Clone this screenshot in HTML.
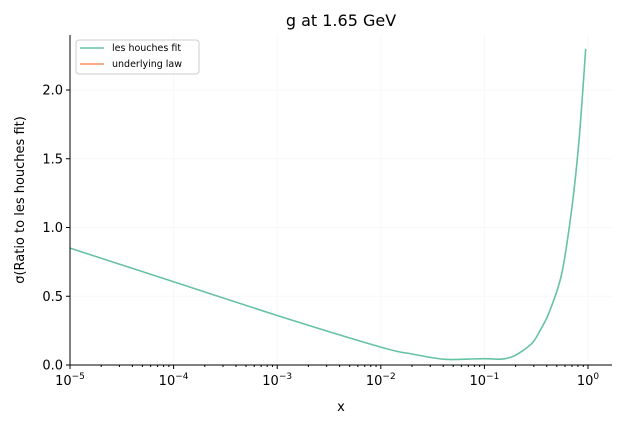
<!DOCTYPE html>
<html><head><meta charset="utf-8"><style>
body{margin:0;background:#fff;}
svg{display:block;font-family:"DejaVu Sans","Liberation Sans",sans-serif;}
</style></head><body>
<svg id="chart" width="622" height="424">
<rect width="622" height="424" fill="#fff"/>
<g id="grid"></g>
<g id="plot"></g>
<g id="axes"></g>
<text x="341" y="26" text-anchor="middle" font-size="16" fill="#000">g at 1.65 GeV</text>
<text x="341" y="411" text-anchor="middle" font-size="13" fill="#000">x</text>
<text transform="translate(24,200) rotate(-90)" text-anchor="middle" font-size="13" fill="#000">σ(Ratio to les houches fit)</text>
<g>
<rect x="76" y="40" width="123" height="34" rx="3" fill="#fff" fill-opacity="0.8" stroke="#ccc"/>
<line x1="80" y1="48" x2="104" y2="48" stroke="#66c2a5" stroke-width="1.5"/>
<text x="112" y="51" font-size="9.5" fill="#000">les houches fit</text>
<line x1="80" y1="64" x2="104" y2="64" stroke="#fc8d62" stroke-width="1.5"/>
<text x="112" y="67" font-size="9.5" fill="#000">underlying law</text>
</g>
</svg>
<script>
const xs=[1e-5,1e-4,1e-3,1e-2,0.02,0.04,0.07,0.1,0.148,0.185,0.22,0.29,0.35,0.42,0.56,0.70,0.82,0.95];
const ys=[0.85,0.605,0.36,0.13,0.08,0.042,0.043,0.046,0.043,0.06,0.09,0.16,0.26,0.38,0.67,1.15,1.64,2.30];
const yTicks=[0,0.5,1.0,1.5,2.0];
const yTickLabels=["0.0","0.5","1.0","1.5","2.0"];
const xTicks=[-5,-4,-3,-2,-1,0];
const L=70,R=612,T=35,B=365;
const X=v=>L+(Math.log10(v)+5)*103.6;
const Y=v=>B-v*137.5;
const NS="http://www.w3.org/2000/svg";
function mk(tag,attrs,parent){const e=document.createElementNS(NS,tag);for(const k in attrs)e.setAttribute(k,attrs[k]);parent.appendChild(e);return e;}
const grid=document.getElementById('grid'),axes=document.getElementById('axes'),plot=document.getElementById('plot');
yTicks.forEach((t,i)=>{
 const g=mk('line',{x1:L,x2:R,y1:Y(t),y2:Y(t),stroke:'#f7f7f7','stroke-width':1},grid);
 
 
 mk('line',{x1:L-4,x2:L,y1:Y(t),y2:Y(t),stroke:'#000'},axes);
 const tx=mk('text',{x:L-7,y:Y(t)+4.5,'text-anchor':'end','font-size':13},axes);
 tx.textContent=yTickLabels[i];
 
 
});
xTicks.forEach(d=>{
 const x=X(Math.pow(10,d));
 const g=mk('line',{x1:x,x2:x,y1:T,y2:B,stroke:'#f7f7f7','stroke-width':1},grid);
 
 
 mk('line',{x1:x,x2:x,y1:B,y2:B+4,stroke:'#000'},axes);
 for(let m=2;m<10&&d<0;m++){const xm=X(m*Math.pow(10,d));mk('line',{x1:xm,x2:xm,y1:B,y2:B+2,stroke:'#000'},axes);}
 const tx=mk('text',{x:x,y:B+20,'text-anchor':'middle','font-size':13},axes);
 tx.innerHTML='10<tspan dy="-6" font-size="9">'+(d<0?'−'+(-d):d)+'</tspan>';
 
 
});
for(let m=2;m<=4;m++){const xm=X(m);if(xm<R)mk('line',{x1:xm,x2:xm,y1:B,y2:B+2,stroke:'#000'},axes);}
mk('line',{x1:L,x2:L,y1:T,y2:B,stroke:'#000'},axes);
mk('line',{x1:L,x2:R,y1:B,y2:B,stroke:'#000'},axes);
// smooth Catmull-Rom path through data points (pixel space)
const P=xs.map((v,i)=>[X(v),Y(ys[i])]);
let d='M'+P[0][0].toFixed(1)+','+P[0][1].toFixed(1);
for(let i=0;i<P.length-1;i++){
 const p0=P[Math.max(0,i-1)],p1=P[i],p2=P[i+1],p3=P[Math.min(P.length-1,i+2)];
 const c1=[p1[0]+(p2[0]-p0[0])/6,p1[1]+(p2[1]-p0[1])/6];
 const c2=[p2[0]-(p3[0]-p1[0])/6,p2[1]-(p3[1]-p1[1])/6];
 d+='C'+c1.map(n=>n.toFixed(1)).join(',')+' '+c2.map(n=>n.toFixed(1)).join(',')+' '+p2.map(n=>n.toFixed(1)).join(',');
}
const p=mk('path',{d:d,fill:'none',stroke:'#66c2a5','stroke-width':1.6,'stroke-linejoin':'round'},plot);


</script>
</body></html>
